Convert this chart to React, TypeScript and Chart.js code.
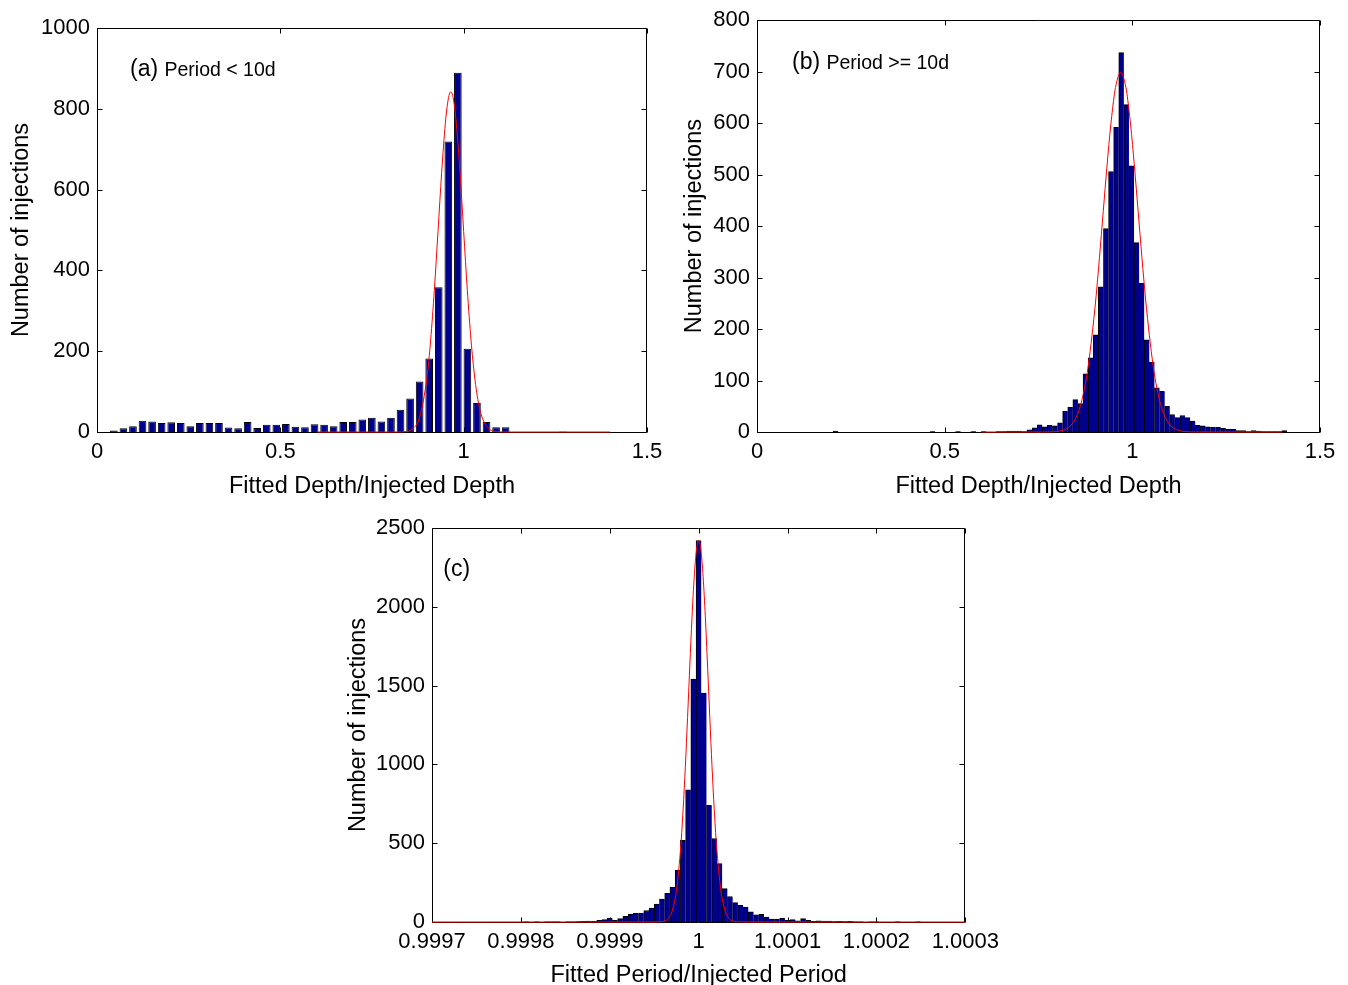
import React, { useEffect, useRef } from 'react';
import { Chart, registerables } from 'chart.js';

Chart.register(...registerables);

const FONT = "'Liberation Sans', Arial, Helvetica, sans-serif";
Chart.defaults.font.family = FONT;
Chart.defaults.color = '#000';

// ---------- Panel (a): Period < 10d ----------
const DEPTH_SHORT_BIN_START = 0.046;
const DEPTH_SHORT_BIN_WIDTH = 0.02606;
const DEPTH_SHORT_COUNTS = [
  4, 9, 14, 28, 26, 22, 24, 22, 14, 22,
  22, 22, 11, 9, 25, 10, 18, 18, 20, 13,
  12, 19, 18, 14, 25, 25, 31, 35, 26, 35,
  55, 83, 125, 182, 358, 719, 889, 206, 72, 25,
  12, 12, 0, 0, 0, 0, 0, 1, 0, 0,
];
const DEPTH_SHORT_FIT_X = [0.6, 0.8, 0.82, 0.84, 0.86, 0.88, 0.9, 0.91, 0.92, 0.93, 0.94, 0.95, 0.955, 0.96, 0.965, 0.97, 0.975, 0.98, 0.99, 1.0, 1.01, 1.02, 1.03, 1.04, 1.05, 1.07, 1.09, 1.11, 1.13, 1.4];
const DEPTH_SHORT_FIT_Y = [0, 0, 0.1, 1, 7, 37, 136, 228, 351, 496, 643, 764, 806, 833, 842, 833, 806, 764, 643, 496, 351, 228, 136, 74, 37, 7, 1, 0.1, 0, 0];

// ---------- Panel (b): Period >= 10d ----------
const DEPTH_LONG_BIN_START = 0.0601;
const DEPTH_LONG_BIN_WIDTH = 0.01359;
const DEPTH_LONG_COUNTS = [
  0, 0, 0, 0, 0, 0, 0, 0, 0, 0,
  0, 2, 0, 0, 0, 0, 0, 0, 0, 0,
  0, 0, 0, 0, 0, 0, 0, 0, 0, 0,
  1, 0, 0, 0, 0, 1, 0, 0, 1, 0,
  1, 0, 0, 1, 1, 2, 2, 2, 1, 4,
  8, 14, 10, 13, 12, 18, 40, 48, 63, 55,
  113, 144, 189, 282, 395, 506, 592, 737, 636, 517,
  368, 289, 179, 136, 86, 79, 50, 34, 28, 32,
  28, 21, 13, 12, 10, 9, 9, 7, 5, 5,
  3, 3, 1, 3, 2, 1, 1, 1, 1, 3,
];
const DEPTH_LONG_FIT_X = [0.6, 0.76, 0.78, 0.8, 0.82, 0.84, 0.86, 0.88, 0.9, 0.91, 0.92, 0.93, 0.94, 0.95, 0.955, 0.969, 0.983, 0.988, 0.998, 1.008, 1.018, 1.028, 1.038, 1.058, 1.078, 1.098, 1.118, 1.138, 1.158, 1.18, 1.4];
const DEPTH_LONG_FIT_Y = [0, 0, 0.2, 1.1, 4.6, 16, 47, 116, 238, 318, 406, 495, 578, 644, 669, 699, 669, 644, 578, 495, 406, 318, 238, 116, 47, 16, 4.6, 1.1, 0.2, 0, 0];

// ---------- Panel (c): period ratio (x stored as (ratio - 1) in units of 1e-4) ----------
const PERIOD_BIN_START = -2.94;
const PERIOD_BIN_WIDTH = 0.0588;
const PERIOD_COUNTS = [
  0, 0, 0, 0, 0, 0, 0, 0, 0, 0,
  0, 0, 0, 0, 0, 0, 0, 1, 0, 1,
  0, 1, 1, 1, 0, 1, 1, 2, 4, 6,
  4, 11, 15, 25, 11, 21, 36, 50, 55, 57,
  73, 88, 113, 146, 182, 220, 330, 519, 839, 1542,
  2420, 1453, 741, 530, 371, 212, 162, 123, 106, 95,
  64, 45, 49, 32, 19, 19, 25, 11, 15, 8,
  21, 11, 4, 8, 6, 6, 2, 4, 2, 4,
  1, 1, 0, 1, 1, 0, 0, 0, 1, 0,
  0, 0, 1, 0, 0, 0, 0, 0, 0, 0, 0,
];
const PERIOD_FIT_X = [-3, -0.5, -0.45, -0.4, -0.35, -0.3, -0.25, -0.2, -0.175, -0.15, -0.125, -0.1, -0.075, -0.05, -0.025, 0, 0.025, 0.05, 0.075, 0.1, 0.125, 0.15, 0.175, 0.2, 0.25, 0.3, 0.35, 0.4, 0.45, 0.5, 3];
const PERIOD_FIT_Y = [0, 0.1, 0.8, 4, 18, 67, 200, 491, 714, 987, 1298, 1624, 1934, 2190, 2360, 2420, 2360, 2190, 1934, 1624, 1298, 987, 714, 491, 200, 67, 18, 4, 0.8, 0.1, 0];
const PERIOD_TICK_LABELS = ['0.9997', '0.9998', '0.9999', '1', '1.0001', '1.0002', '1.0003'];

const binCenters = (start: number, width: number, n: number) =>
  Array.from({ length: n }, (_, i) => start + i * width);

type Spec = {
  left: number; top: number; width: number; height: number;
  yAxisWidth: number; xAxisHeight: number; padTop: number; padRight: number;
  yTitlePad: number; xTitlePad: number;
  xMin: number; xMax: number; xStep: number; yMax: number; yStep: number;
  xTickLabel?: (v: number) => string;
  barX: number[]; barY: number[]; barPercentage: number; barBorder: any;
  fitX: number[]; fitY: number[];
  labelBig: string; labelSmall: string; labelX: number; labelY: number;
  xTitle: string; yTitle: string;
};

const SPECS: Spec[] = [
  {
    left: 0, top: 0, width: 670, height: 500,
    yAxisWidth: 97, xAxisHeight: 68, padTop: 28, padRight: 23,
    yTitlePad: 10, xTitlePad: 2,
    xMin: 0, xMax: 1.5, xStep: 0.5, yMax: 1000, yStep: 200,
    barX: binCenters(DEPTH_SHORT_BIN_START, DEPTH_SHORT_BIN_WIDTH, DEPTH_SHORT_COUNTS.length),
    barY: DEPTH_SHORT_COUNTS, barPercentage: 0.8, barBorder: 1,
    fitX: DEPTH_SHORT_FIT_X, fitY: DEPTH_SHORT_FIT_Y,
    labelBig: '(a) ', labelSmall: 'Period < 10d', labelX: 0.09, labelY: 881,
    xTitle: 'Fitted Depth/Injected Depth', yTitle: 'Number of injections',
  },
  {
    left: 670, top: 0, width: 678, height: 500,
    yAxisWidth: 87, xAxisHeight: 68, padTop: 18, padRight: 28,
    yTitlePad: 13, xTitlePad: 2,
    xMin: 0, xMax: 1.5, xStep: 0.5, yMax: 800, yStep: 100,
    barX: binCenters(DEPTH_LONG_BIN_START, DEPTH_LONG_BIN_WIDTH, DEPTH_LONG_COUNTS.length),
    barY: DEPTH_LONG_COUNTS, barPercentage: 1, barBorder: { top: 1, left: 1, right: 0, bottom: 0 },
    fitX: DEPTH_LONG_FIT_X, fitY: DEPTH_LONG_FIT_Y,
    labelBig: '(b) ', labelSmall: 'Period >= 10d', labelX: 0.0933, labelY: 706,
    xTitle: 'Fitted Depth/Injected Depth', yTitle: 'Number of injections',
  },
  {
    left: 330, top: 500, width: 676, height: 485,
    yAxisWidth: 102, xAxisHeight: 63, padTop: 28, padRight: 40,
    yTitlePad: 17, xTitlePad: -2,
    xMin: -3, xMax: 3, xStep: 1, yMax: 2500, yStep: 500,
    xTickLabel: (v: number) => PERIOD_TICK_LABELS[Math.round(v) + 3] ?? '',
    barX: binCenters(PERIOD_BIN_START, PERIOD_BIN_WIDTH, PERIOD_COUNTS.length),
    barY: PERIOD_COUNTS, barPercentage: 1, barBorder: { top: 1, left: 1, right: 0, bottom: 0 },
    fitX: PERIOD_FIT_X, fitY: PERIOD_FIT_Y,
    labelBig: '(c)', labelSmall: '', labelX: -2.873, labelY: 2196,
    xTitle: 'Fitted Period/Injected Period', yTitle: 'Number of injections',
  },
];

function Panel({ spec }: { spec: Spec }) {
  const ref = useRef<HTMLCanvasElement>(null);
  useEffect(() => {
    const canvas = ref.current!;
    const frame = {
      id: 'frame',
      beforeDatasetsDraw(chart: any) {
        const { ctx, chartArea, scales } = chart;
        const { left, right, top, bottom } = chartArea;
        const L = Math.round(left) + 0.5, R = Math.round(right) - 0.5;
        const T = Math.round(top) + 0.5, B = Math.round(bottom) + 0.5;
        ctx.save();
        ctx.strokeStyle = '#000';
        ctx.lineWidth = 1;
        ctx.beginPath();
        ctx.rect(L, T, R - L, B - T);
        const tl = 5;
        scales.x.ticks.forEach((t: any) => {
          const px = Math.round(scales.x.getPixelForValue(t.value)) + 0.5;
          ctx.moveTo(px, B); ctx.lineTo(px, B - tl);
          ctx.moveTo(px, T); ctx.lineTo(px, T + tl);
        });
        scales.y.ticks.forEach((t: any) => {
          const py = Math.round(scales.y.getPixelForValue(t.value)) + 0.5;
          ctx.moveTo(L, py); ctx.lineTo(L + tl, py);
          ctx.moveTo(R, py); ctx.lineTo(R - tl, py);
        });
        ctx.stroke();
        ctx.restore();
      },
      afterDraw(chart: any) {
        const { ctx, scales } = chart;
        const x = scales.x.getPixelForValue(spec.labelX);
        const y = scales.y.getPixelForValue(spec.labelY);
        ctx.save();
        ctx.fillStyle = '#000';
        ctx.textBaseline = 'alphabetic';
        ctx.textAlign = 'left';
        ctx.font = `23px ${FONT}`;
        ctx.fillText(spec.labelBig, x, y);
        const w = ctx.measureText(spec.labelBig).width;
        if (spec.labelSmall) {
          ctx.font = `19.5px ${FONT}`;
          ctx.fillText(spec.labelSmall, x + w, y);
        }
        ctx.restore();
      },
    };
    const chart = new Chart(canvas, {
      type: 'bar',
      data: {
        datasets: [
          {
            type: 'line',
            data: spec.fitX.map((x, i) => ({ x, y: spec.fitY[i] })),
            borderColor: '#ff0000',
            borderWidth: 1,
            pointRadius: 0,
            cubicInterpolationMode: 'monotone',
            fill: false,
            clip: false,
            order: 0,
          } as any,
          {
            type: 'bar',
            data: spec.barX.map((x, i) => ({ x, y: spec.barY[i] })),
            backgroundColor: 'rgb(0,0,143)',
            borderColor: '#000',
            borderWidth: spec.barBorder,
            borderSkipped: 'start',
            barPercentage: spec.barPercentage,
            categoryPercentage: 1,
            order: 1,
          } as any,
        ],
      },
      options: {
        animation: false,
        responsive: false,
        maintainAspectRatio: false,
        events: [],
        layout: { padding: { left: 0, top: spec.padTop, right: spec.padRight, bottom: 0 } },
        plugins: { legend: { display: false }, tooltip: { enabled: false } },
        scales: {
          x: {
            type: 'linear',
            min: spec.xMin,
            max: spec.xMax,
            offset: false,
            grid: { display: false, drawTicks: false },
            border: { display: false },
            ticks: {
              stepSize: spec.xStep,
              autoSkip: false,
              maxRotation: 0,
              padding: 7,
              color: '#000',
              font: { size: 22, family: FONT },
              callback: (v: any) => spec.xTickLabel ? spec.xTickLabel(Number(v)) : String(Number(v)),
            },
            title: {
              display: true,
              text: spec.xTitle,
              color: '#000',
              font: { size: 23.5, family: FONT, lineHeight: 1 },
              padding: { top: 0, bottom: spec.xTitlePad },
            },
            afterFit: (s: any) => { s.height = spec.xAxisHeight; },
          } as any,
          y: {
            type: 'linear',
            min: 0,
            max: spec.yMax,
            grid: { display: false, drawTicks: false },
            border: { display: false },
            ticks: {
              stepSize: spec.yStep,
              padding: 7,
              color: '#000',
              font: { size: 22, family: FONT },
              callback: (v: any) => String(Number(v)),
            },
            title: {
              display: true,
              text: spec.yTitle,
              color: '#000',
              font: { size: 23.5, family: FONT, lineHeight: 1 },
              padding: { top: spec.yTitlePad, bottom: 0 },
            },
            afterFit: (s: any) => { s.width = spec.yAxisWidth; },
          } as any,
        },
      },
      plugins: [frame],
    });
    return () => chart.destroy();
  }, [spec]);
  return (
    <div style={{ position: 'absolute', left: spec.left, top: spec.top, width: spec.width, height: spec.height }}>
      <canvas ref={ref} width={spec.width} height={spec.height} style={{ width: spec.width, height: spec.height, display: 'block' }} />
    </div>
  );
}

export default function App() {
  return (
    <div style={{ position: 'fixed', left: 0, top: 0, width: 1348, height: 985, background: '#fff' }}>
      {SPECS.map((s, i) => <Panel key={i} spec={s} />)}
    </div>
  );
}
